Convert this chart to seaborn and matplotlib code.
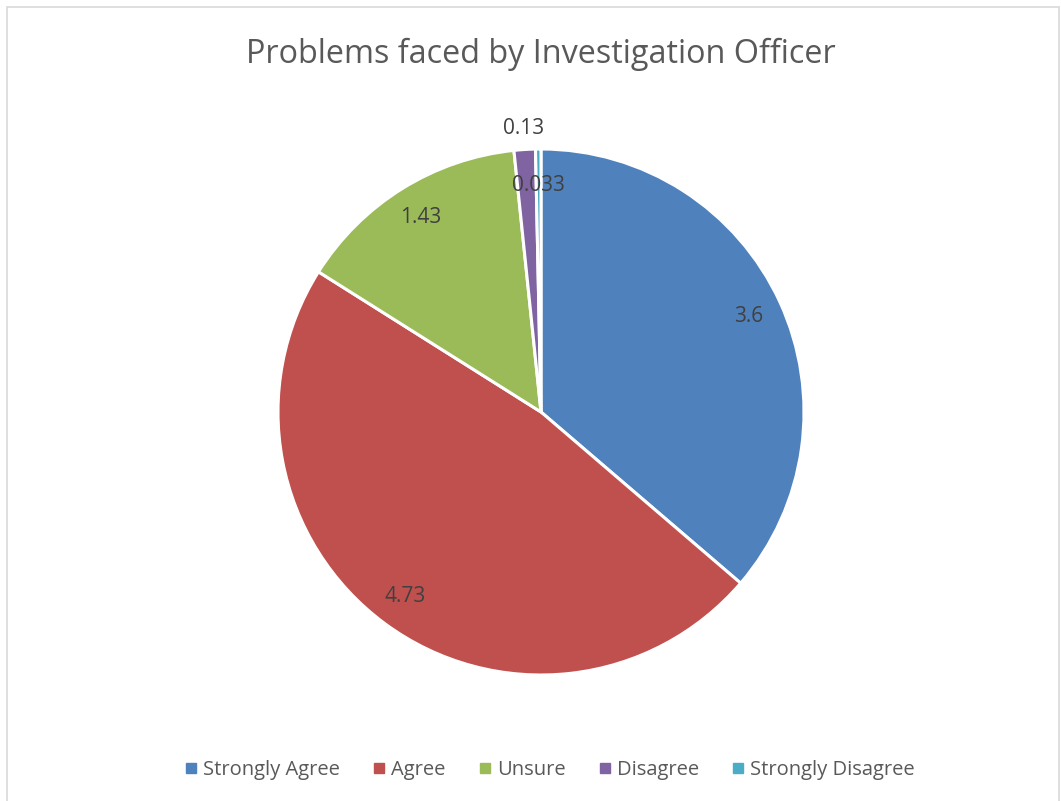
import numpy as np
import matplotlib.pyplot as plt
import seaborn as sns
from matplotlib.patches import Rectangle
from matplotlib.lines import Line2D

sns.set_theme(style="white")
plt.rcParams['font.family'] = ['Open Sans', 'DejaVu Sans']

# data
categories = ['Strongly Agree', 'Agree', 'Unsure', 'Disagree', 'Strongly Disagree']
values = [3.6, 4.73, 1.43, 0.13, 0.033]
value_labels = ['3.6', '4.73', '1.43', '0.13', '0.033']
colors = ['#4F81BD', '#C0504D', '#9BBB59', '#8064A2', '#4BACC6']
label_dist = [0.87, 0.87, 0.87, 1.08, 0.86]

txt = '#595959'

fig = plt.figure(figsize=(10.61, 8.01), dpi=100)
fig.patch.set_facecolor('white')

# chart border
fig.patches.append(Rectangle((7 / 1061, -0.01), (1059 - 7) / 1061, 1 - 7 / 801 + 0.01,
                             transform=fig.transFigure, fill=False,
                             edgecolor='#D9D9D9', linewidth=1.2))

r = 263
cx, cy = 541, 412
ax = fig.add_axes([(cx - r) / 1061, (801 - cy - r) / 801, 2 * r / 1061, 2 * r / 801])
wedges, _ = ax.pie(values, colors=colors, startangle=90, counterclock=False, radius=1,
                   wedgeprops=dict(edgecolor='white', linewidth=2.2))
ax.set_xlim(-1, 1)
ax.set_ylim(-1, 1)
ax.set_aspect('equal')
ax.axis('off')

for w, lab, d in zip(wedges, value_labels, label_dist):
    ang = np.deg2rad((w.theta1 + w.theta2) / 2)
    ax.text(d * np.cos(ang), d * np.sin(ang), lab, ha='center', va='center',
            fontsize=15, color='#404040')

fig.text(541 / 1061, 1 - 54 / 801, 'Problems faced by Investigation Officer',
         ha='center', va='center', fontsize=23.3, color=txt)

handles = [Line2D([0], [0], marker='s', linestyle='', markersize=6.5,
                  markerfacecolor=c, markeredgecolor=c) for c in colors]
fig.legend(handles, categories, loc='center', bbox_to_anchor=(548 / 1061, 1 - 770 / 801),
           ncol=5, frameon=False, fontsize=14.5, labelcolor=txt, handletextpad=0.1,
           columnspacing=1.45, handlelength=1.0)

fig.savefig('out.png', dpi=100, facecolor='white')
